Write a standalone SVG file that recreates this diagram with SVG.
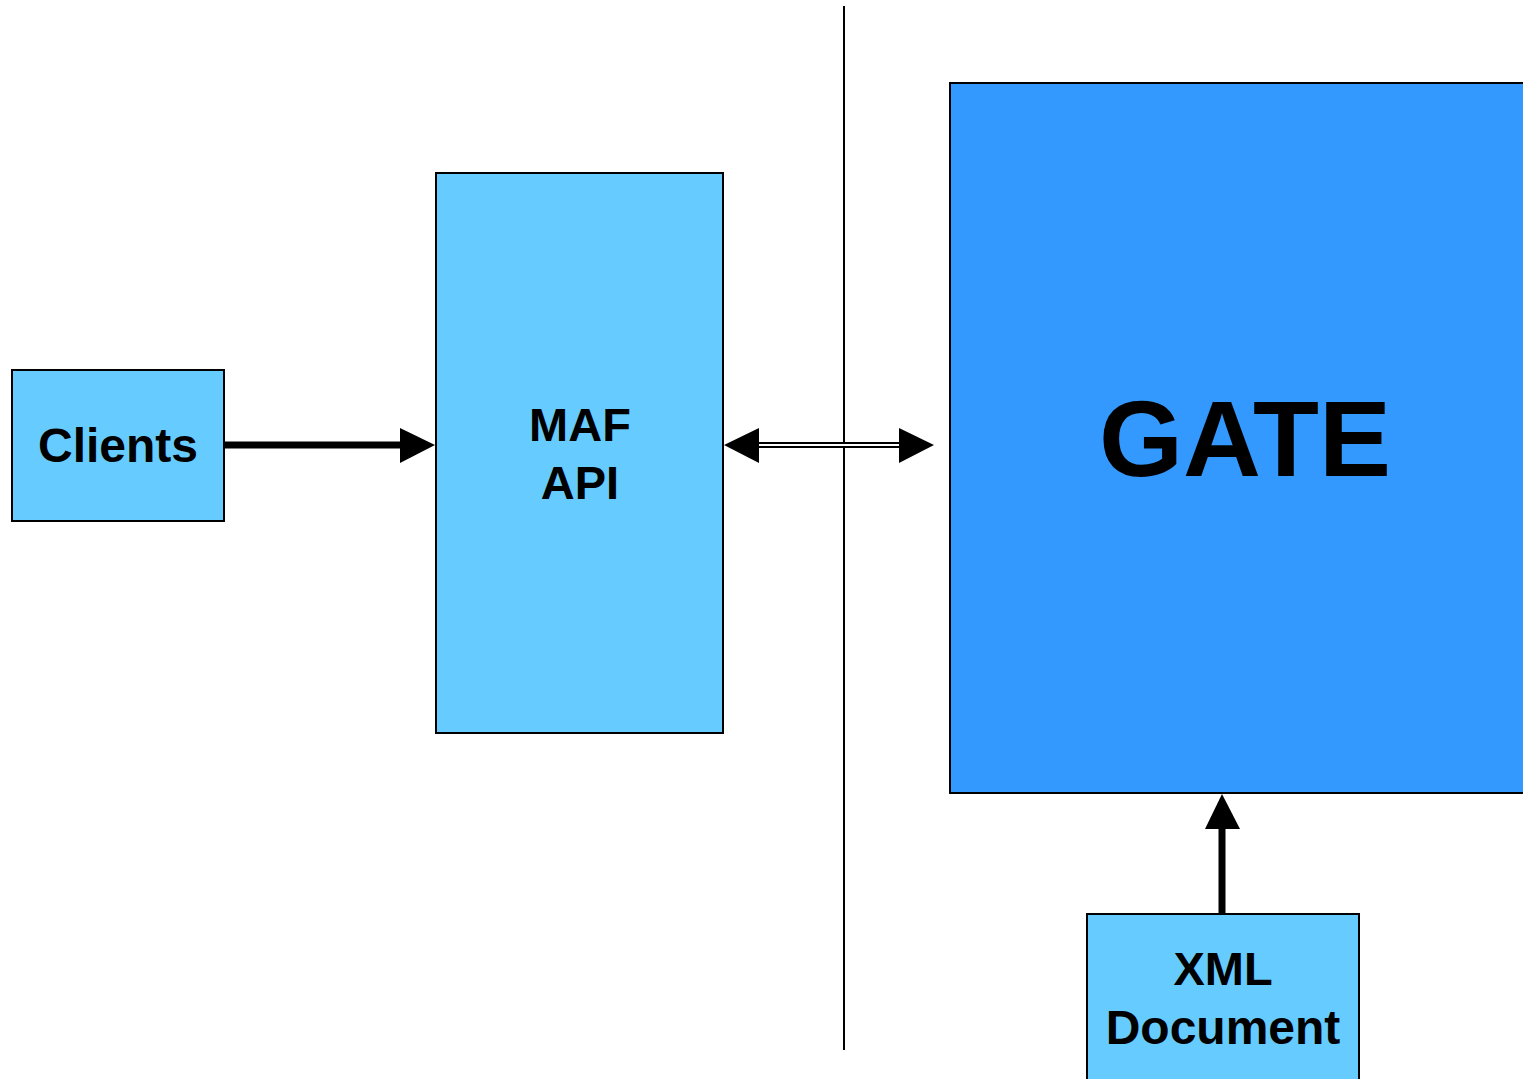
<svg xmlns="http://www.w3.org/2000/svg" width="1523" height="1079" viewBox="0 0 1523 1079">
<style>
.box{stroke:#000;stroke-width:2}
.light{fill:#66ccff}
.dark{fill:#3399ff}
.t{font-family:"Liberation Sans",Arial,sans-serif;font-weight:bold;fill:#000;text-anchor:middle}
</style>
<rect width="1523" height="1079" fill="#fff"/>
<g id="connectors">
<line x1="844" y1="6" x2="844" y2="1050" stroke="#000" stroke-width="2"/>
<line x1="224" y1="445" x2="402" y2="445" stroke="#000" stroke-width="7"/>
<polygon points="400,428 435,445 400,463" fill="#000"/>
<line x1="757" y1="445" x2="901" y2="445" stroke="#000" stroke-width="6"/>
<line x1="757" y1="445" x2="901" y2="445" stroke="#fff" stroke-width="2"/>
<polygon points="759,428 724,445 759,463" fill="#000"/>
<polygon points="899,428 934,445 899,463" fill="#000"/>
<line x1="1222" y1="913" x2="1222" y2="827" stroke="#000" stroke-width="7"/>
<polygon points="1205,829 1222,794 1240,829" fill="#000"/>
</g>
<g id="clients">
<rect class="box light" x="12" y="370" width="212" height="151"/>
<text class="t" x="118" y="462" font-size="48">Clients</text>
</g>
<g id="maf-api">
<rect class="box light" x="436" y="173" width="287" height="560"/>
<text class="t" x="580" y="441" font-size="47">MAF</text>
<text class="t" x="580" y="499" font-size="47">API</text>
</g>
<g id="gate">
<rect class="box dark" x="950" y="83" width="580" height="710"/>
<text class="t" x="1245" y="476" font-size="108">GATE</text>
</g>
<g id="xml-document">
<rect class="box light" x="1087" y="914" width="272" height="180"/>
<text class="t" x="1223" y="985" font-size="47">XML</text>
<text class="t" x="1223" y="1044" font-size="48">Document</text>
</g>
</svg>
